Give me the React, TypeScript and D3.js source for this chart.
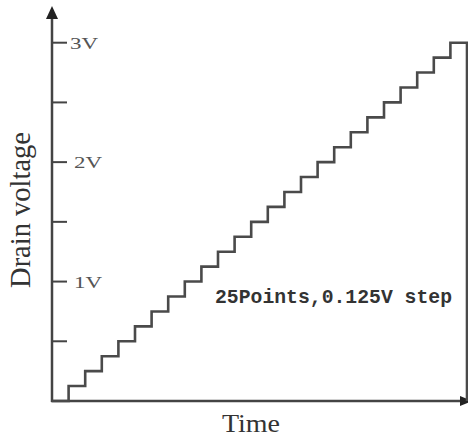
import React from "react";
import * as d3 from "d3";

const levels = [
  0, 0.125, 0.25, 0.375, 0.5, 0.625, 0.75, 0.875, 1, 1.125, 1.25, 1.375, 1.5,
  1.625, 1.75, 1.875, 2, 2.125, 2.25, 2.375, 2.5, 2.625, 2.75, 2.875, 3,
];
const yTicks = [0.5, 1, 1.5, 2, 2.5, 3];
const yTickLabels: Record<number, string> = { 1: "1V", 2: "2V", 3: "3V" };
const yTitle = "Drain voltage";
const xTitle = "Time";
const note = "25Points,0.125V step";

const W = 468;
const H = 439;

export default function App() {
  const x = d3.scaleLinear().domain([0, levels.length]).range([52, 467]);
  const y = d3.scaleLinear().domain([0, 3]).range([401, 42.7]);

  const pts: [number, number][] = levels.map((v, i) => [i, v]);
  pts.push([levels.length, levels[levels.length - 1]]);
  const line = d3
    .line<[number, number]>()
    .x((d) => x(d[0]))
    .y((d) => y(d[1]))
    .curve(d3.curveStepAfter);
  const stairs = line(pts) + ` L${x(levels.length)},${y(0)}`;

  const axisColor = "#444";
  const x0 = x(0);
  const y0 = y(0);

  return (
    <svg
      width={W}
      height={H}
      style={{ position: "absolute", left: 0, top: 0, background: "#fff" }}
      fontFamily="'Liberation Serif', 'Times New Roman', serif"
    >
      <rect width={W} height={H} fill="#fff" />
      {/* y axis */}
      <line x1={x0} x2={x0} y1={y0 + 1} y2={16} stroke={axisColor} strokeWidth={2.5} />
      <path d={`M${x0},6 L${x0 - 6},19 L${x0 + 6},19 Z`} fill="#222" />
      {/* x axis */}
      <line x1={x0 - 1} x2={462} y1={y0} y2={y0} stroke={axisColor} strokeWidth={2.5} />
      <path d={`M472,${y0} L460,${y0 - 5} L460,${y0 + 5} Z`} fill="#222" />
      {/* ticks */}
      {yTicks.map((t) => (
        <g key={t}>
          <line x1={x0} x2={x0 + 15} y1={y(t)} y2={y(t)} stroke={axisColor} strokeWidth={2} />
          {yTickLabels[t] && (
            <text
              transform={`translate(${t === 3 ? x0 + 18 : x0 + 22},${y(t)}) scale(1.35,1)`}
              dy="0.36em"
              fontSize={17}
              fill="#555"
            >
              {yTickLabels[t]}
            </text>
          )}
        </g>
      ))}
      {/* stairs */}
      <path d={stairs} fill="none" stroke="#4a4a4a" strokeWidth={2.6} strokeLinejoin="miter" />
      {/* annotation */}
      <text
        x={215}
        y={303}
        fontSize={19.7}
        fontFamily="'Liberation Mono', 'DejaVu Sans Mono', monospace"
        fontWeight="bold"
        fill="#333"
        textLength={237}
        lengthAdjust="spacingAndGlyphs"
      >
        {note}
      </text>
      {/* titles */}
      <text
        transform="translate(251,432) scale(1.12,1)"
        fontSize={25}
        textAnchor="middle"
        fill="#333"
      >
        {xTitle}
      </text>
      <text
        transform="translate(30,210) rotate(-90)"
        fontSize={28.5}
        textAnchor="middle"
        fill="#333"
      >
        {yTitle}
      </text>
    </svg>
  );
}
